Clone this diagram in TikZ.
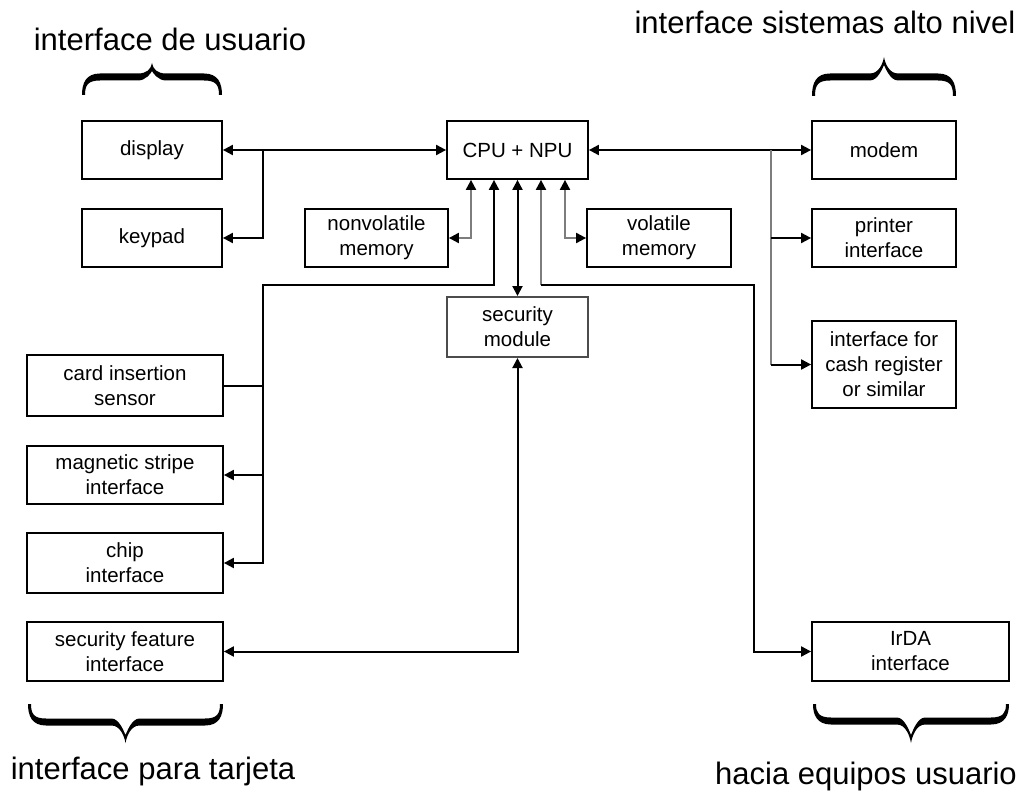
\documentclass[tikz,border=0pt]{standalone}
\usepackage{fontspec}
\setmainfont{Liberation Sans}
\usetikzlibrary{arrows.meta}

\definecolor{wiregrey}{RGB}{125,125,125}

% Curly brace drawn as a filled outline: #1 width, #2 arm depth, #3 tip height
\newcommand\curlybrace[3]{%
  \fill
   (0,0) .. controls (0,{-#2+6}) and (4,{-#2-3.5}) .. (18,{-#2-3.5})
   -- ({#1/2-14},{-#2-3.5}) .. controls ({#1/2-5},{-#2-3.5}) and ({#1/2-1},{-#3+6}) .. ({#1/2},{-#3})
   .. controls ({#1/2+1},{-#3+6}) and ({#1/2+5},{-#2-3.5}) .. ({#1/2+14},{-#2-3.5})
   -- ({#1-18},{-#2-3.5}) .. controls ({#1-4},{-#2-3.5}) and (#1,{-#2+6}) .. (#1,0)
   -- ({#1-3},0) .. controls ({#1-3},{-#2+8}) and ({#1-6},{-#2+3.5}) .. ({#1-18},{-#2+3.5})
   -- ({#1/2+14},{-#2+3.5}) .. controls ({#1/2+6},{-#2+3.5}) and ({#1/2+1},{-#3+10}) .. ({#1/2},{-#3+8})
   .. controls ({#1/2-1},{-#3+10}) and ({#1/2-6},{-#2+3.5}) .. ({#1/2-14},{-#2+3.5})
   -- (18,{-#2+3.5}) .. controls (6,{-#2+3.5}) and (3,{-#2+8}) .. (3,0) -- cycle;
}

\tikzset{
  blk/.style={draw, line width=1.8pt, inner sep=0pt, align=center,
              font=\fontsize{20.5}{25}\selectfont},
  wire/.style={line width=2pt, draw=black},
  greywire/.style={line width=2pt, draw=wiregrey},
  grouplabel/.style={font=\fontsize{31}{36}\selectfont, inner sep=0pt, anchor=base},
  >={Triangle[length=10pt, width=10pt, color=black]},
}

\begin{document}
\begin{tikzpicture}[x=1pt, y=-1pt]
\fill[white] (0,0) rectangle (1021,792);
\useasboundingbox (0,0) rectangle (1021,792);

% user interface column
\node[blk, minimum width=140pt, minimum height=58pt] (display) at (152,150) {display};
\node[blk, minimum width=140pt, minimum height=58pt] (keypad)  at (152,238) {keypad};

% processor and memories
\node[blk, minimum width=141pt, minimum height=58pt] (cpu)    at (517.5,150) {CPU + NPU};
\node[blk, minimum width=143pt, minimum height=58pt] (nonvol) at (376.5,238) {nonvolatile\\memory};
\node[blk, minimum width=144pt, minimum height=58pt] (vol)    at (659,238)   {volatile\\memory};
\node[blk, draw=black!70, line width=2pt, minimum width=141pt, minimum height=60pt] (secmod) at (517.5,327) {security\\module};

% host system interfaces
\node[blk, minimum width=144pt, minimum height=58pt] (modem)   at (884,150)   {modem};
\node[blk, minimum width=144pt, minimum height=58pt] (printer) at (884,238)   {printer\\interface};
\node[blk, minimum width=144pt, minimum height=87pt] (cash)    at (884,364.5) {interface for\\cash register\\or similar};
\node[blk, minimum width=197pt, minimum height=59pt] (irda)    at (910.5,651.5) {IrDA\\interface};

% card interfaces
\node[blk, minimum width=196pt, minimum height=61pt] (card)    at (125,385.5) {card insertion\\sensor};
\node[blk, minimum width=196pt, minimum height=58pt] (mag)     at (125,475)   {magnetic stripe\\interface};
\node[blk, minimum width=196pt, minimum height=60pt] (chip)    at (125,563)   {chip\\interface};
\node[blk, minimum width=196pt, minimum height=59pt] (secfeat) at (125,651.5) {security feature\\interface};

% user interface bus
\draw[wire,<->] (display) -- (cpu);
\coordinate (ujoin) at (263,150);
\draw[wire,->] (ujoin) |- (keypad.east);

% host system bus
\draw[wire,<->] (cpu) -- (modem);
\coordinate (hjoin) at (771,150);
\draw[greywire] (hjoin) -- (hjoin |- cash.west);
\draw[wire,->] (hjoin |- printer.west) -- (printer.west);
\draw[wire,->] (hjoin |- cash.west) -- (cash.west);

% processor taps
\coordinate (tapA) at ([xshift=-46.5pt]cpu.south);
\coordinate (tapB) at ([xshift=-23.5pt]cpu.south);
\coordinate (tapD) at ([xshift=23.5pt]cpu.south);
\coordinate (tapE) at ([xshift=47.5pt]cpu.south);

\draw[greywire,<->] (tapA) |- (nonvol.east);
\draw[greywire,<->] (tapE) |- (vol.west);

% card bus
\coordinate (cardbus) at (263,285);
\draw[wire,<->] (tapB) |- (cardbus) |- (chip.east);
\draw[wire] (card.east) -- (card.east -| cardbus);
\draw[wire,->] (mag.east -| cardbus) -- (mag.east);

% security module links
\draw[wire,<->] (cpu.south) -- (secmod.north);
\draw[wire,<->] (secmod.south) |- (secfeat.east);

% infrared link
\coordinate (irbend) at (tapD |- cardbus);
\coordinate (irdown) at (754,285);
\draw[greywire,<-] (tapD) -- (irbend);
\draw[wire,->] (irbend) -- (irdown) |- (irda.west);

% group braces
\begin{scope}[shift={(82,95)}]
  \curlybrace{140}{18}{32}
\end{scope}
\begin{scope}[shift={(812,96)}]
  \curlybrace{144}{19}{39}
\end{scope}
\begin{scope}[shift={(28,704)}, yscale=-1]
  \curlybrace{195}{18}{39}
\end{scope}
\begin{scope}[shift={(813,704)}, yscale=-1]
  \curlybrace{196}{17}{39}
\end{scope}

% group captions
\node[grouplabel] (capui)   at (170,51)  {interface de usuario};
\node[grouplabel] (caphost) at (825,34)  {interface sistemas alto nivel};
\node[grouplabel] (capcard) at (153,779) {interface para tarjeta};
\node[grouplabel] (capuser) at (866,784) {hacia equipos usuario};
\end{tikzpicture}
\end{document}
